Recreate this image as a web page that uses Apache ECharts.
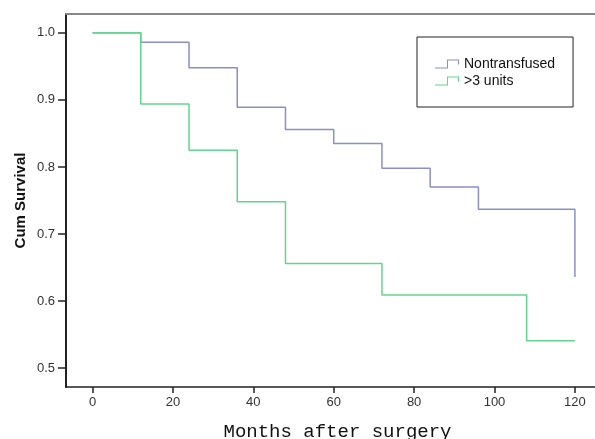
<!DOCTYPE html>
<html>
<head>
<meta charset="utf-8">
<script src="https://cdn.jsdelivr.net/npm/echarts@6/dist/echarts.min.js"></script>
<style>
  html, body { margin: 0; padding: 0; background: #fff; }
  #main { width: 595px; height: 439px; }
</style>
</head>
<body>
<div id="main"></div>
<script>
// survival curves (Kaplan-Meier, step at each event time)
var blueMonths = [0, 12, 24, 36, 48, 60, 72, 84, 96, 120];
var blueSurv = [1.0, 0.986, 0.948, 0.889, 0.856, 0.835, 0.798, 0.770, 0.737, 0.636];
var greenMonths = [0, 12, 24, 36, 48, 72, 108, 120];
var greenSurv = [1.0, 0.894, 0.825, 0.748, 0.656, 0.609, 0.541, 0.541];
var xTicks = [0, 20, 40, 60, 80, 100, 120];
var yTicks = [0.5, 0.6, 0.7, 0.8, 0.9, 1.0];
var seriesNames = ['Nontransfused', '>3 units'];

function pairs(xs, ys) {
    return xs.map(function (x, i) { return [x, ys[i]]; });
}

var stepIcon = 'path://M0,9 L12,9 L12,1 L24,1 L24,6 L23,6 L23,2 L13,2 L13,10 L0,10 Z';

var myChart = echarts.init(document.getElementById('main'), null, { renderer: 'canvas' });

option = {
    backgroundColor: '#fff',
    animation: false,
    grid: {
        left: 66,
        top: 14,
        right: 0,
        bottom: 52,
        containLabel: false,
        outerBoundsMode: 'none'
    },
    legend: {
        orient: 'vertical',
        left: 417,
        top: 37,
        padding: [20, 18, 19, 18],
        itemGap: 3,
        itemWidth: 24,
        itemHeight: 10,
        borderColor: '#222',
        borderWidth: 1,
        data: [
            { name: seriesNames[0], icon: stepIcon },
            { name: seriesNames[1], icon: stepIcon }
        ],
        textStyle: {
            fontFamily: 'Liberation Sans, Arial',
            fontSize: 14,
            color: '#111'
        }
    },
    xAxis: [{
        type: 'value',
        min: -6.6,
        max: 125,
        name: 'Months after surgery',
        nameLocation: 'middle',
        nameGap: 35,
        nameTextStyle: {
            fontFamily: 'Liberation Mono, DejaVu Sans Mono, monospace',
            fontSize: 19,
            color: '#111',
            padding: [0, 0, 0, 14]
        },
        splitLine: { show: false },
        axisLine: { onZero: false, lineStyle: { color: '#222', width: 1.5 } },
        axisTick: { length: 6, customValues: xTicks, lineStyle: { color: '#222', width: 1.5 } },
        axisLabel: {
            customValues: xTicks,
            margin: 9,
            fontFamily: 'Liberation Sans, Arial',
            fontSize: 13,
            color: '#333'
        }
    }, {
        type: 'value',
        position: 'top',
        min: -6.6,
        max: 125,
        splitLine: { show: false },
        axisLine: { onZero: false, lineStyle: { color: '#888', width: 2 } },
        axisTick: { show: false },
        axisLabel: { show: false }
    }],
    yAxis: {
        type: 'value',
        min: 0.472,
        max: 1.028,
        name: 'Cum Survival',
        nameLocation: 'middle',
        nameGap: 38,
        nameMoveOverlap: false,
        nameTextStyle: {
            fontFamily: 'Liberation Sans, Arial',
            fontWeight: 'bold',
            fontSize: 15,
            color: '#111'
        },
        splitLine: { show: false },
        axisLine: { onZero: false, lineStyle: { color: '#222', width: 2 } },
        axisTick: { length: 8, customValues: yTicks, lineStyle: { color: '#222', width: 1.5 } },
        axisLabel: {
            customValues: yTicks,
            margin: 11,
            fontFamily: 'Liberation Sans, Arial',
            fontSize: 13,
            color: '#333',
            formatter: function (v) { return v.toFixed(1); }
        }
    },
    series: [{
        name: seriesNames[0],
        type: 'line',
        step: 'end',
        showSymbol: false,
        symbol: 'none',
        color: '#8a8fc6',
        lineStyle: { color: '#8a8fc6', width: 1.5 },
        data: pairs(blueMonths, blueSurv)
    }, {
        name: seriesNames[1],
        type: 'line',
        step: 'end',
        showSymbol: false,
        symbol: 'none',
        color: '#63d48f',
        lineStyle: { color: '#63d48f', width: 1.5 },
        data: pairs(greenMonths, greenSurv)
    }]
};
myChart.setOption(option);
</script>
</body>
</html>
